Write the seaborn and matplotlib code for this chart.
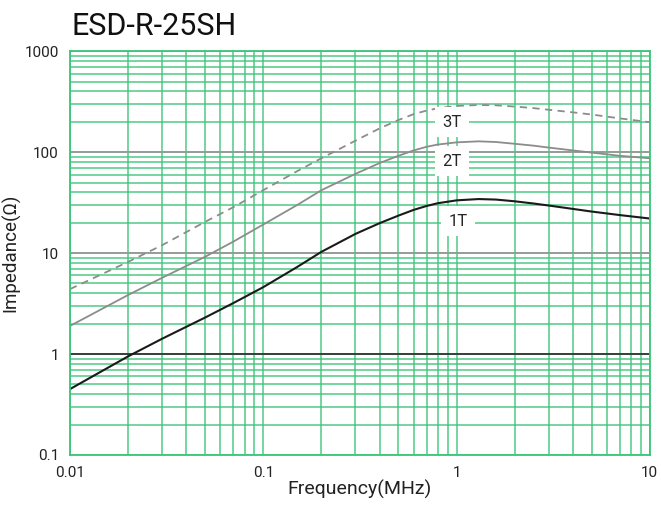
import pandas as pd
import matplotlib.pyplot as plt
import seaborn as sns
from matplotlib.ticker import LogLocator, FixedLocator, FixedFormatter, NullFormatter

# -------------------------------
# Data
# -------------------------------
freq = [0.01, 0.02, 0.03, 0.05, 0.07, 0.1, 0.15, 0.2, 0.3, 0.4, 0.5, 0.6,
        0.7, 0.8, 1.0, 1.3, 1.6, 2.0, 2.5, 3.0, 4.0, 5.0, 7.0, 10.0]
z_1t = [0.45, 0.95, 1.42, 2.3, 3.2, 4.6, 7.3, 10.3, 15.5, 19.8, 23.5, 26.8,
        29.3, 31.2, 33.3, 34.3, 33.9, 32.6, 31.0, 29.6, 27.4, 25.8, 23.8, 22.0]
z_2t = [1.9, 3.85, 5.7, 9.2, 13, 19.2, 30, 42, 61, 78, 92, 104,
        113, 119, 125, 128, 126, 121, 116, 111, 104, 99, 92, 87]
z_3t = [4.4, 8.2, 12, 20.4, 28.5, 42, 65, 87, 130, 172, 208, 238,
        258, 272, 287, 293, 291, 283, 273, 263, 248, 236, 216, 198]

x_ticks = [0.01, 0.1, 1, 10]
x_labels = ["0.01", "0.1", "1", "10"]
y_ticks = [0.1, 1, 10, 100, 1000]
y_labels = ["0.1", "1", "10", "100", "1000"]

df = pd.DataFrame({"freq": freq, "1T": z_1t, "2T": z_2t, "3T": z_3t})

sns.set_style("white")
plt.rcParams["font.family"] = ["Roboto", "DejaVu Sans"]

green = "#3cc47a"

fig = plt.figure(figsize=(6.61, 5.07), dpi=100)
ax = fig.add_axes([0.106, 0.1026, 0.877, 0.7964])
ax.set_xscale("log")
ax.set_yscale("log")
ax.set_xlim(0.01, 10)
ax.set_ylim(0.1, 1000)

# grid
ax.xaxis.set_minor_locator(LogLocator(base=10, subs=range(2, 10)))
ax.yaxis.set_minor_locator(LogLocator(base=10, subs=range(2, 10)))
ax.xaxis.set_minor_formatter(NullFormatter())
ax.yaxis.set_minor_formatter(NullFormatter())
ax.grid(which="both", color=green, linewidth=1.1, alpha=0.9)
ax.set_axisbelow(True)

# decade reference lines
ax.axhline(1, color="#333333", linewidth=1.3, zorder=1.5)
for v in (10, 100):
    ax.axhline(v, color="#999999", linewidth=1.3, zorder=1.5)

# curves
sns.lineplot(data=df, x="freq", y="1T", ax=ax, color="#1a1a1a", linewidth=1.5)
sns.lineplot(data=df, x="freq", y="2T", ax=ax, color="#8c8c8c", linewidth=1.3)
sns.lineplot(data=df, x="freq", y="3T", ax=ax, color="#8c8c8c", linewidth=1.3,
             linestyle=(0, (4, 3)))

# curve labels
box = dict(boxstyle="square,pad=0.45", fc="white", ec="none")
ax.text(0.95, 198, "3T", ha="center", va="center", fontsize=12, bbox=box)
ax.text(0.95, 81.5, "2T", ha="center", va="center", fontsize=12, bbox=box)
ax.text(1.02, 20.7, "1T", ha="center", va="center", fontsize=12, bbox=box)

ax.xaxis.set_major_locator(FixedLocator(x_ticks))
ax.xaxis.set_major_formatter(FixedFormatter(x_labels))
ax.yaxis.set_major_locator(FixedLocator(y_ticks))
ax.yaxis.set_major_formatter(FixedFormatter(y_labels))
ax.tick_params(which="both", length=0, labelsize=11, colors="#222222")
ax.tick_params(axis="x", pad=8)
ax.tick_params(axis="y", pad=8)

for s in ax.spines.values():
    s.set_color(green)
    s.set_linewidth(1.3)

ax.set_xlabel("Frequency(MHz)", fontsize=14, labelpad=0, color="#222222")
ax.set_ylabel("Impedance(Ω)", fontsize=13.5, labelpad=3, color="#222222")
fig.text(0.108, 0.948, "ESD-R-25SH", fontsize=22, ha="left", va="center",
         color="#111111")

plt.savefig("out.png", dpi=100)
